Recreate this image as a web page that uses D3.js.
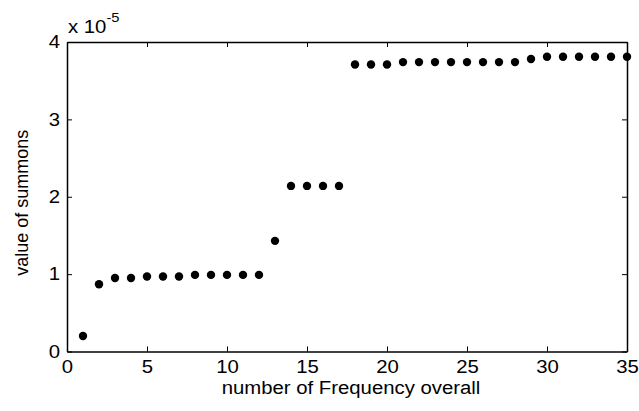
<!DOCTYPE html>
<html>
<head>
<meta charset="utf-8">
<script src="https://cdn.jsdelivr.net/npm/d3@7"></script>
<style>
  body { margin: 0; background: #fff; }
  svg { font-family: Arial, "Liberation Sans", sans-serif; }
</style>
</head>
<body>
<svg id="chart"></svg>
<script>
// frequency index and value of summons (in units of 1e-5)
const freqIndex = d3.range(1, 36);
const summons = [
    0.20, 0.87, 0.95, 0.95, 0.97, 0.97, 0.97, 0.99, 0.99, 0.99,
    0.99, 0.99, 1.43, 2.14, 2.14, 2.14, 2.14, 3.71, 3.71, 3.71,
    3.74, 3.74, 3.74, 3.74, 3.74, 3.74, 3.74, 3.74, 3.78, 3.81,
    3.81, 3.81, 3.81, 3.81, 3.81
];
const xTicks = [0, 5, 10, 15, 20, 25, 30, 35];
const yTicks = [0, 1, 2, 3, 4];

const width = 639, height = 411;
const margin = {top: 42, right: 12, bottom: 59.5, left: 67};
const w = width - margin.left - margin.right;
const h = height - margin.top - margin.bottom;

// the picture's text is a bit wide, stretch it horizontally
const sx = 1.13;
const fontSize = 18;

let svg = d3.select('#chart')
    .attr('width', width)
    .attr('height', height);

let g = svg.append('g')
    .attr('transform', 'translate(' + margin.left + ',' + margin.top + ')');

let x = d3.scaleLinear().domain([0, 35]).range([0, w]);
let y = d3.scaleLinear().domain([0, 4]).range([h, 0]);

const tickLen = 5;

// bottom + top axes, left + right axes (box)
let axB = g.append('g')
    .attr('transform', 'translate(0,' + h + ')')
    .call(d3.axisBottom(x).tickValues(xTicks).tickSizeInner(-tickLen).tickSizeOuter(0)
        .tickPadding(9).tickFormat(d3.format('d')));
let axT = g.append('g')
    .call(d3.axisTop(x).tickValues(xTicks).tickSizeInner(-tickLen).tickSizeOuter(0).tickFormat(''));
let axL = g.append('g')
    .call(d3.axisLeft(y).tickValues(yTicks).tickSizeInner(-tickLen).tickSizeOuter(0)
        .tickPadding(7).tickFormat(d3.format('d')));
let axR = g.append('g')
    .attr('transform', 'translate(' + w + ',0)')
    .call(d3.axisRight(y).tickValues(yTicks).tickSizeInner(-tickLen).tickSizeOuter(0).tickFormat(''));

[axB, axT, axL, axR].forEach(function(a) {
    a.select('.domain').attr('stroke', '#000').attr('stroke-width', 1.5);
    a.selectAll('.tick line').attr('stroke', '#000').attr('stroke-width', 1);
    a.selectAll('.tick text')
        .attr('fill', '#000')
        .style('font-size', fontSize + 'px');
});

// stretch tick labels, keeping their anchor point
axB.selectAll('.tick text').attr('transform', 'scale(' + sx + ',1)');
axL.selectAll('.tick text')
    .attr('x', -7 / sx)
    .attr('transform', 'scale(' + sx + ',1)');

// points
g.selectAll('circle.pt')
    .data(summons)
    .enter().append('circle')
    .attr('class', 'pt')
    .attr('cx', function(d, i) { return x(freqIndex[i]); })
    .attr('cy', function(d) { return y(d); })
    .attr('r', 4.2)
    .attr('fill', '#000');

// exponent label
let ex = svg.append('text')
    .attr('transform', 'translate(68,33) scale(' + sx + ',1)')
    .style('font-size', fontSize + 'px')
    .attr('fill', '#000');
ex.append('tspan').text('x 10');
ex.append('tspan').attr('dy', -11).style('font-size', '13px').text('-5');

// axis labels
svg.append('text')
    .attr('transform', 'translate(' + (margin.left + w / 2 + 4) + ',394) scale(' + sx + ',1)')
    .attr('text-anchor', 'middle')
    .style('font-size', fontSize + 'px')
    .attr('fill', '#000')
    .text('number of Frequency overall');

svg.append('text')
    .attr('transform', 'translate(28,' + (margin.top + h / 2 + 6) + ') rotate(-90)')
    .attr('text-anchor', 'middle')
    .style('font-size', fontSize + 'px')
    .attr('fill', '#000')
    .text('value of summons');
</script>
</body>
</html>
